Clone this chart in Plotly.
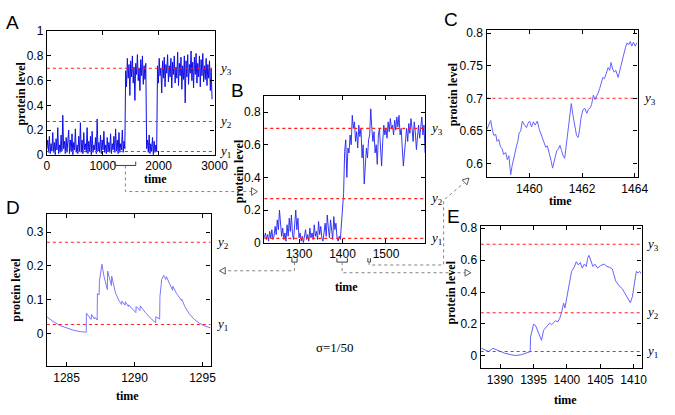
import plotly.graph_objects as go

# ---------------- data ----------------
thresholds = {"y1": 0.027, "y2": 0.27, "y3": 0.7}

# Panel A: full trajectory, sampled every 15 time units from t=0
A_t0, A_dt = 0, 15
A_level = [
    0.05, 0.12, 0.02, 0.15, 0.01, 0.09, 0.03, 0.18, 0.02, 0.10,
    0.00, 0.13, 0.04, 0.22, 0.01, 0.08, 0.02, 0.16, 0.03, 0.32,
    0.05, 0.11, 0.01, 0.14, 0.02, 0.09, 0.20, 0.01, 0.12, 0.03,
    0.17, 0.00, 0.10, 0.04, 0.21, 0.02, 0.08, 0.01, 0.15, 0.03,
    0.26, 0.02, 0.12, 0.01, 0.18, 0.04, 0.09, 0.02, 0.22, 0.01,
    0.11, 0.03, 0.15, 0.00, 0.19, 0.02, 0.08, 0.04, 0.14, 0.01,
    0.29, 0.03, 0.10, 0.02, 0.16, 0.01, 0.12, 0.04, 0.19, 0.02,
    0.08, 0.01, 0.14, 0.03, 0.10, 0.02, 0.17, 0.01, 0.09, 0.04,
    0.15, 0.02, 0.21, 0.03, 0.12, 0.01, 0.18, 0.02, 0.09, 0.04,
    0.20, 0.02, 0.11, 0.05, 0.68, 0.55, 0.78, 0.62, 0.73, 0.48,
    0.76, 0.63, 0.80, 0.58, 0.71, 0.44, 0.74, 0.65, 0.81, 0.60,
    0.70, 0.52, 0.77, 0.64, 0.80, 0.57, 0.72, 0.61, 0.74, 0.05,
    0.12, 0.02, 0.16, 0.01, 0.09, 0.03, 0.14, 0.00, 0.11, 0.02,
    0.08, 0.03, 0.72, 0.58, 0.78, 0.64, 0.70, 0.50, 0.76, 0.62,
    0.79, 0.55, 0.73, 0.66, 0.81, 0.59, 0.72, 0.63, 0.78, 0.54,
    0.75, 0.65, 0.80, 0.58, 0.71, 0.62, 0.83, 0.56, 0.74, 0.64,
    0.79, 0.53, 0.72, 0.61, 0.80, 0.42, 0.76, 0.63, 0.81, 0.57,
    0.73, 0.66, 0.84, 0.60, 0.75, 0.54, 0.79, 0.65, 0.82, 0.58,
    0.74, 0.63, 0.80, 0.55, 0.77, 0.64, 0.82, 0.59, 0.72, 0.61,
    0.78, 0.56, 0.73, 0.62, 0.76, 0.52, 0.70, 0.45,
]

# Panel B: window 1220-1590, sampled every 2.5 time units
B_t0, B_dt = 1220, 2.5
B_level = [
    0.03, 0.06, 0.02, 0.05, 0.01, 0.07, 0.03, 0.08, 0.02, 0.04,
    0.10, 0.05, 0.14, 0.08, 0.20, 0.12, 0.04, 0.09, 0.02, 0.06,
    0.01, 0.11, 0.04, 0.15, 0.07, 0.17, 0.05, 0.02, 0.12, 0.20,
    0.08, 0.15, 0.03, 0.06, 0.01, 0.04, 0.00, 0.03, 0.08, 0.02,
    0.05, 0.01, 0.09, 0.03, 0.06, 0.02, 0.11, 0.04, 0.07, 0.02,
    0.13, 0.05, 0.10, 0.03, 0.01, 0.06, 0.12, 0.04, 0.17, 0.09,
    0.03, 0.14, 0.07, 0.02, 0.16, 0.08, 0.12, 0.03, 0.01, 0.04,
    0.02, 0.10, 0.21, 0.30, 0.56, 0.63, 0.40, 0.58, 0.55, 0.66,
    0.60, 0.78, 0.70, 0.74, 0.62, 0.68, 0.58, 0.72, 0.65, 0.70,
    0.52, 0.60, 0.36, 0.48, 0.58, 0.52, 0.63, 0.66, 0.82, 0.70,
    0.62, 0.68, 0.55, 0.60, 0.48, 0.66, 0.70, 0.58, 0.47, 0.62,
    0.72, 0.66, 0.70, 0.64, 0.74, 0.68, 0.76, 0.70, 0.72, 0.66,
    0.75, 0.69, 0.77, 0.71, 0.78, 0.66, 0.70, 0.58, 0.47, 0.55,
    0.64, 0.70, 0.62, 0.73, 0.67, 0.76, 0.70, 0.62, 0.74, 0.68,
    0.57, 0.66, 0.72, 0.64, 0.70, 0.77, 0.66, 0.72, 0.55,
]

# Panel C: zoom 1458.4 - 1464.1
C_time = [
    1458.38, 1458.45, 1458.53, 1458.60, 1458.65, 1458.72, 1458.77, 1458.83, 1458.90, 1458.96,
    1459.02, 1459.10, 1459.16, 1459.22, 1459.29, 1459.34, 1459.39, 1459.45, 1459.51, 1459.56,
    1459.61, 1459.67, 1459.73, 1459.80, 1459.89, 1459.95, 1460.01, 1460.08, 1460.15, 1460.22,
    1460.30, 1460.38, 1460.44, 1460.50, 1460.56, 1460.62, 1460.68, 1460.75, 1460.82, 1460.88,
    1460.93, 1460.98, 1461.04, 1461.10, 1461.16, 1461.22, 1461.28, 1461.34, 1461.39, 1461.44,
    1461.52, 1461.59, 1461.65, 1461.72, 1461.79, 1461.85, 1461.90, 1461.96, 1462.03, 1462.10,
    1462.18, 1462.24, 1462.30, 1462.36, 1462.43, 1462.49, 1462.55, 1462.61, 1462.67, 1462.73,
    1462.79, 1462.85, 1462.92, 1462.99, 1463.05, 1463.10, 1463.16, 1463.22, 1463.28, 1463.33,
    1463.37, 1463.43, 1463.50, 1463.58, 1463.65, 1463.71, 1463.77, 1463.83, 1463.89, 1463.95,
    1464.02, 1464.08,
]
C_level = [
    0.652, 0.660, 0.666, 0.650, 0.643, 0.645, 0.634, 0.637, 0.626, 0.623,
    0.614, 0.617, 0.606, 0.612, 0.583, 0.596, 0.606, 0.617, 0.627, 0.634,
    0.647, 0.650, 0.665, 0.660, 0.655, 0.662, 0.665, 0.656, 0.664, 0.659,
    0.665, 0.652, 0.645, 0.637, 0.630, 0.625, 0.627, 0.617, 0.605, 0.593,
    0.603, 0.612, 0.620, 0.622, 0.628, 0.620, 0.612, 0.608, 0.625, 0.645,
    0.670, 0.692, 0.675, 0.660, 0.643, 0.640, 0.650, 0.670, 0.682, 0.685,
    0.677, 0.683, 0.685, 0.690, 0.705, 0.698, 0.702, 0.708, 0.715, 0.722,
    0.732, 0.730, 0.737, 0.747, 0.743, 0.755, 0.745, 0.740, 0.743, 0.738,
    0.732, 0.742, 0.755, 0.770, 0.778, 0.785, 0.782, 0.787, 0.780, 0.786,
    0.780, 0.785,
]

# Panel D: zoom 1283.5 - 1295.6
D_time = [
    1283.55, 1284.0, 1284.5, 1285.0, 1285.5, 1286.0, 1286.45, 1286.46, 1286.8, 1286.85,
    1287.05, 1287.1, 1287.25, 1287.27, 1287.4, 1287.42, 1287.6, 1287.75, 1288.0, 1288.02,
    1288.3, 1288.32, 1288.6, 1288.9, 1289.05, 1289.07, 1289.3, 1289.32, 1289.55, 1289.57,
    1289.9, 1290.1, 1290.12, 1290.4, 1290.42, 1290.8, 1291.2, 1291.55, 1291.57, 1291.85,
    1291.87, 1292.0, 1292.15, 1292.3, 1292.35, 1292.55, 1292.8, 1292.82, 1293.1, 1293.45,
    1293.47, 1293.7, 1294.0, 1294.4, 1294.8, 1295.2, 1295.6,
]
D_level = [
    0.050, 0.036, 0.024, 0.016, 0.010, 0.006, 0.004, 0.060, 0.042, 0.056,
    0.043, 0.048, 0.040, 0.118, 0.115, 0.155, 0.205, 0.170, 0.130, 0.185,
    0.142, 0.170, 0.120, 0.094, 0.086, 0.096, 0.084, 0.094, 0.080, 0.085,
    0.070, 0.062, 0.080, 0.068, 0.082, 0.062, 0.045, 0.032, 0.050, 0.043,
    0.110, 0.160, 0.172, 0.160, 0.168, 0.148, 0.128, 0.140, 0.118, 0.098,
    0.102, 0.080, 0.060, 0.042, 0.030, 0.022, 0.017,
]

# Panel E: zoom 1387 - 1411
E_time = [
    1387.2, 1387.8, 1388.3, 1388.9, 1389.4, 1390.0, 1390.7, 1391.5, 1392.2, 1393.1,
    1393.7, 1394.1, 1394.5, 1394.55, 1394.8, 1395.0, 1395.3, 1395.6, 1396.0, 1396.2,
    1396.5, 1396.8, 1397.1, 1397.4, 1397.7, 1398.0, 1398.3, 1398.6, 1398.9, 1399.2,
    1399.5, 1399.7, 1400.0, 1400.4, 1400.7, 1401.1, 1401.4, 1401.7, 1402.0, 1402.3,
    1402.6, 1402.9, 1403.1, 1403.3, 1403.6, 1403.9, 1404.2, 1404.6, 1405.0, 1405.3,
    1405.6, 1406.0, 1406.4, 1406.8, 1407.3, 1407.8, 1408.3, 1408.7, 1409.1, 1409.5,
    1409.8, 1410.1, 1410.4, 1410.65, 1410.9, 1411.1,
]
E_level = [
    0.047, 0.035, 0.027, 0.047, 0.037, 0.028, 0.016, 0.008, 0.002, 0.006,
    0.014, 0.022, 0.026, 0.117, 0.160, 0.198, 0.190, 0.160, 0.117, 0.097,
    0.160, 0.175, 0.190, 0.205, 0.195, 0.210, 0.220, 0.212, 0.232, 0.270,
    0.330, 0.300, 0.370, 0.440, 0.530, 0.556, 0.590, 0.570, 0.585, 0.550,
    0.575, 0.560, 0.612, 0.630, 0.600, 0.560, 0.575, 0.550, 0.565, 0.570,
    0.575, 0.560, 0.555, 0.545, 0.470, 0.440, 0.420, 0.390, 0.360, 0.333,
    0.370, 0.450, 0.530, 0.520, 0.530, 0.515,
]

# ---------------- layout helpers ----------------
W, H = 675, 415
def fx(x): return x / W
def fy(y): return 1 - y / H

# pixel boxes: left, top, right, bottom ; axis ranges
panels = {
    "A": dict(box=(45, 25, 217, 153), xr=[0, 3000], yr=[0, 1.0],
              xt=[0, 1000, 2000, 3000], yt=[0, 0.2, 0.4, 0.6, 0.8, 1],
              lines=["y1", "y2", "y3"]),
    "B": dict(box=(268, 92, 433, 244), xr=[1220, 1590], yr=[0, 0.899],
              xt=[1300, 1400, 1500], yt=[0, 0.2, 0.4, 0.6, 0.8],
              lines=["y1", "y2", "y3"]),
    "C": dict(box=(496, 24, 651, 176), xr=[1458.37, 1464.11], yr=[0.5793, 0.8044],
              xt=[1460, 1462, 1464], yt=[0.6, 0.65, 0.7, 0.75, 0.8],
              lines=["y3"]),
    "D": dict(box=(45, 214, 213, 372), xr=[1283.55, 1295.6], yr=[-0.097, 0.354],
              xt=[1285, 1290, 1295], yt=[0, 0.1, 0.2, 0.3],
              lines=["y1", "y2"]),
    "E": dict(box=(490, 227, 655, 374), xr=[1387.08, 1411.17], yr=[-0.079, 0.812],
              xt=[1390, 1395, 1400, 1405, 1410], yt=[0, 0.2, 0.4, 0.6, 0.8],
              lines=["y1", "y2", "y3"]),
}
series = {
    "A": ([A_t0 + A_dt * i for i in range(len(A_level))], A_level, "rgb(15,15,230)", 1.0),
    "B": ([B_t0 + B_dt * i for i in range(len(B_level))], B_level, "rgb(35,35,240)", 0.9),
    "C": (C_time, C_level, "rgb(100,100,255)", 1.0),
    "D": (D_time, D_level, "rgb(120,120,255)", 1.0),
    "E": (E_time, E_level, "rgb(100,100,255)", 1.0),
}

SANS = "Liberation Sans, Arial, sans-serif"
SERIF = "Liberation Serif, Times New Roman, serif"

fig = go.Figure()
layout = dict(width=W, height=H, autosize=False,
              margin=dict(l=0, r=0, t=0, b=0),
              paper_bgcolor="white", plot_bgcolor="white",
              showlegend=False)
shapes, annotations = [], []

for k, (name, p) in enumerate(panels.items(), start=1):
    l, t, r, b = p["box"]
    xa = "xaxis" if k == 1 else f"xaxis{k}"
    ya = "yaxis" if k == 1 else f"yaxis{k}"
    xid = "x" if k == 1 else f"x{k}"
    yid = "y" if k == 1 else f"y{k}"
    common = dict(showline=True, mirror="ticks", linecolor="black", linewidth=1.3,
                  ticks="inside", ticklen=4, tickcolor="black", tickwidth=1,
                  showgrid=False, zeroline=False,
                  tickfont=dict(family=SANS, size=12, color="black"))
    layout[xa] = dict(common, domain=[fx(l), fx(r)], range=p["xr"], tickvals=p["xt"],
                      anchor=yid)
    layout[ya] = dict(common, domain=[fy(b), fy(t)], range=p["yr"], tickvals=p["yt"],
                      anchor=xid)
    xs, ys, col, lw = series[name]
    fig.add_trace(go.Scatter(x=xs, y=ys, mode="lines", xaxis=xid, yaxis=yid,
                             line=dict(color=col, width=lw), hoverinfo="skip"))
    for ln in p["lines"]:
        v = thresholds[ln]
        fig.add_trace(go.Scatter(x=p["xr"], y=[v, v], mode="lines", xaxis=xid, yaxis=yid,
                                 line=dict(color="rgb(255,30,30)", width=1.1, dash="dot"),
                                 hoverinfo="skip"))
        annotations.append(dict(text=f"<i>y</i><sub>{ln[1]}</sub>", xref="paper", yref=yid,
                                x=fx(r + 3), y=v, xanchor="left", yanchor="middle",
                                showarrow=False,
                                font=dict(family=SERIF, size=13, color="black")))

# axis titles, panel letters (pixel centres)
titles_time = {"A": (156, 178), "B": (352, 290), "C": (572, 201), "D": (128, 403), "E": (577, 407)}
titles_prot = {"A": (18, 90), "B": (242, 170), "C": (462, 90), "D": (13, 293), "E": (460, 295)}
letters = {"A": (10, 16), "B": (241, 86), "C": (460, 13), "D": (10, 207), "E": (462, 217)}
for n in panels:
    x, y = titles_time[n]
    annotations.append(dict(text="<b>time</b>", xref="paper", yref="paper", x=fx(x), y=fy(y),
                            showarrow=False, xanchor="center", yanchor="middle",
                            font=dict(family=SERIF, size=12, color="black")))
    x, y = titles_prot[n]
    annotations.append(dict(text="<b>protein level</b>", xref="paper", yref="paper", x=fx(x), y=fy(y),
                            showarrow=False, xanchor="center", yanchor="middle", textangle=-90,
                            font=dict(family=SERIF, size=12, color="black")))
    x, y = letters[n]
    annotations.append(dict(text=n, xref="paper", yref="paper", x=fx(x), y=fy(y),
                            showarrow=False, xanchor="center", yanchor="middle",
                            font=dict(family=SANS, size=19, color="black")))

annotations.append(dict(text="σ=1/50", xref="paper", yref="paper", x=fx(340), y=fy(352),
                        showarrow=False, xanchor="center", yanchor="middle",
                        font=dict(family=SERIF, size=13, color="black")))

# ---------------- zoom brackets and connectors ----------------
def to_px(name, t):
    l, _, r, _ = panels[name]["box"]
    x0, x1 = panels[name]["xr"]
    return l + (t - x0) / (x1 - x0) * (r - l)

def bracket(name, ta, tb, ytop, ybot):
    xa_, xb_ = to_px(name, ta), to_px(name, tb)
    path = f"M {fx(xa_)},{fy(ytop)} L {fx(xa_)},{fy(ybot)} L {fx(xb_)},{fy(ybot)} L {fx(xb_)},{fy(ytop)}"
    shapes.append(dict(type="path", path=path, xref="paper", yref="paper",
                       line=dict(color="rgb(60,60,60)", width=1)))
    return (xa_ + xb_) / 2

GREY = "rgb(130,130,130)"
def polyline(pts):
    path = "M " + " L ".join(f"{fx(x)},{fy(y)}" for x, y in pts)
    shapes.append(dict(type="path", path=path, xref="paper", yref="paper",
                       line=dict(color=GREY, width=1, dash="dot")))

def arrowhead(pts):
    path = "M " + " L ".join(f"{fx(x)},{fy(y)}" for x, y in pts) + " Z"
    shapes.append(dict(type="path", path=path, xref="paper", yref="paper",
                       fillcolor="rgba(0,0,0,0)", line=dict(color="rgb(90,90,90)", width=1)))

# A -> B
cA = bracket("A", panels["B"]["xr"][0], panels["B"]["xr"][1], 160, 164)
polyline([(cA, 164), (cA, 191), (255, 191)])
arrowhead([(255, 187), (261, 191), (255, 195)])
# B -> D
cD = bracket("B", panels["D"]["xr"][0], panels["D"]["xr"][1], 260, 264)
polyline([(cD, 264), (cD, 273), (228, 273)])
arrowhead([(228, 269.5), (222, 273), (228, 276.5)])
# B -> E
cE = bracket("B", panels["E"]["xr"][0], panels["E"]["xr"][1], 260, 264)
polyline([(cE, 264), (cE, 275), (474, 275)])
arrowhead([(474, 271.5), (480, 275), (474, 278.5)])
# B -> C
cC = bracket("B", panels["C"]["xr"][0], panels["C"]["xr"][1], 260, 264)
polyline([(cC, 264), (cC, 267), (452, 267), (452, 200), (473, 182)])
arrowhead([(471, 179), (478, 177), (476, 184)])

layout["shapes"] = shapes
layout["annotations"] = annotations
fig.update_layout(**layout)

fig.write_html("out.html", include_plotlyjs=True,
               config={"displayModeBar": False},
               post_script="document.body.style.margin='0px';document.body.style.overflow='hidden';")
